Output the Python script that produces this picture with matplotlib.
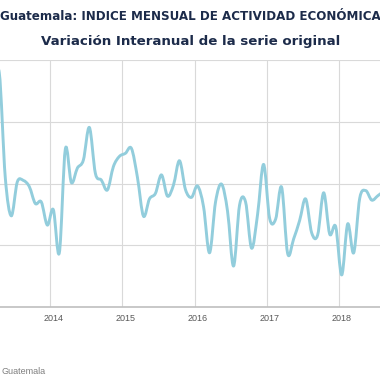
import numpy as np
import matplotlib.pyplot as plt
from matplotlib.path import Path
from matplotlib.patches import PathPatch

# monthly interannual variation (%), Mar 2013 .. Aug 2018
start_year, start_month = 2013, 3
valores = [
    7.0, 7.6, 4.2, 2.95, 4.05, 4.1, 3.9, 3.35, 3.4, 2.65,                 # 2013
    3.15, 1.75, 5.12, 4.03, 4.5, 4.76, 5.82, 4.33, 4.11, 3.79, 4.55, 4.88,  # 2014
    4.98, 5.14, 4.2, 2.94, 3.5, 3.68, 4.28, 3.59, 3.95, 4.74, 3.8, 3.55,    # 2015
    3.92, 3.25, 1.75, 3.4, 3.98, 3.1, 1.32, 3.3, 3.4, 1.9, 3.0, 4.62,       # 2016
    2.87, 2.84, 3.88, 1.73, 2.2, 2.8, 3.5, 2.4, 2.33, 3.7, 2.36, 2.6,       # 2017
    1.03, 2.69, 1.75, 3.52, 3.77, 3.46, 3.6, 3.75,                          # 2018
]
anios = [2014, 2015, 2016, 2017, 2018]
titulo1 = "Guatemala: INDICE MENSUAL DE ACTIVIDAD ECONÓMICA"
titulo2 = "Variación Interanual de la serie original"
fuente = "Guatemala"

n = len(valores)
x = np.array([start_year + (start_month - 1 + i) / 12 + 1 / 24 for i in range(n)])
y = np.array(valores)

fig = plt.figure(figsize=(3.8, 3.8), dpi=100)
ax = fig.add_axes([0, 1 - 306.7 / 380, 1, (306.7 - 60.3) / 380])
ax.set_xlim(2013.302, 2018.573)
ax.set_ylim(0, 8)

# smoothed line (Excel-style bezier through the monthly points)
verts = [(x[0], y[0])]
codes = [Path.MOVETO]
for i in range(n - 1):
    p0 = np.array([x[max(i - 1, 0)], y[max(i - 1, 0)]])
    p1 = np.array([x[i], y[i]])
    p2 = np.array([x[i + 1], y[i + 1]])
    p3 = np.array([x[min(i + 2, n - 1)], y[min(i + 2, n - 1)]])
    c1 = p1 + (p2 - p0) / 6
    c2 = p2 - (p3 - p1) / 6
    verts += [tuple(c1), tuple(c2), tuple(p2)]
    codes += [Path.CURVE4] * 3
ax.add_patch(PathPatch(Path(verts, codes), facecolor="none", edgecolor="#92cddc",
                       lw=2.1, capstyle="round", joinstyle="round", zorder=3))

for s in ["top", "left", "right"]:
    ax.spines[s].set_visible(False)
ax.spines["bottom"].set_color("#bfbfbf")
ax.spines["bottom"].set_linewidth(1.2)

ax.set_yticks([2, 4, 6, 8])
ax.set_yticklabels([])
ax.tick_params(axis="y", length=0)
ax.yaxis.grid(True, color="#d9d9d9", lw=0.8)

ax.set_xticks(anios, minor=True)
ax.xaxis.grid(True, which="minor", color="#d9d9d9", lw=0.8)
ax.set_xticks([a + 1 / 24 for a in anios])
ax.set_xticklabels([str(a) for a in anios], fontsize=6.5, color="#595959",
                   family="Liberation Sans")
ax.tick_params(axis="x", which="both", length=0, pad=5)
ax.set_axisbelow(True)

fig.text(0.5, 1 - 16 / 380, titulo1, ha="center", va="center", fontsize=8.6,
         fontweight="bold", color="#1c2b4a")
fig.text(0.502, 1 - 41 / 380, titulo2, ha="center", va="center", fontsize=9.6,
         fontweight="bold", color="#1c2b4a")
fig.text(1 / 380, 1 - 372 / 380, fuente, ha="left", va="center", fontsize=6.5,
         color="#7f7f7f", family="Liberation Sans")

fig.savefig("out.png", dpi=100)
